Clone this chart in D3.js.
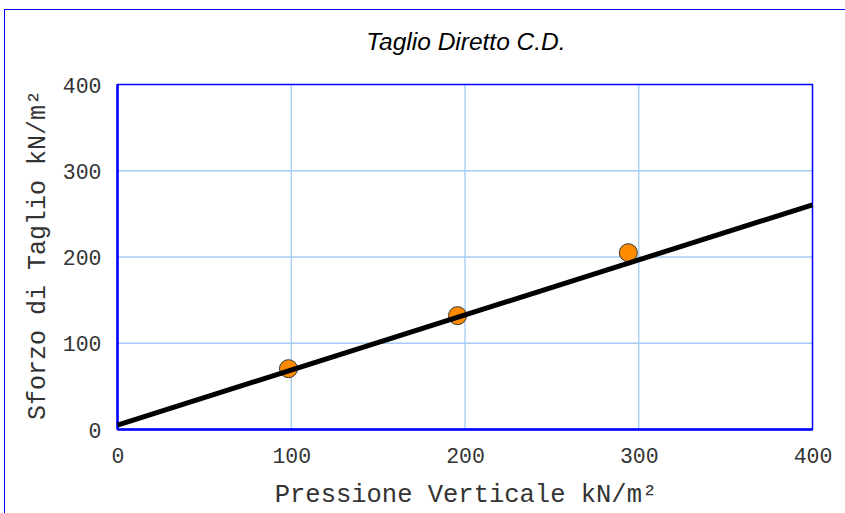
<!DOCTYPE html>
<html><head><meta charset="utf-8">
<script src="https://cdn.jsdelivr.net/npm/d3@7"></script>
<style>body{margin:0;background:#fff;}svg{display:block;}</style>
</head><body>
<svg id="chart" width="845" height="513"></svg>
<script>
const chartTitle = "Taglio Diretto C.D.";
const xTitle = "Pressione Verticale kN/m²";
const yTitle = "Sforzo di Taglio kN/m²";
const xTicks = [0, 100, 200, 300, 400];
const yTicks = [0, 100, 200, 300, 400];
const pressure = [98.4, 195.7, 294];
const shear = [70.5, 132, 205];
const fitX = [0, 400];
const fitY = [5.2, 260.5];

const svg = d3.select("#chart");
const m = {left: 117.5, right: 812.5, top: 84.5, bottom: 429.5};
const x = d3.scaleLinear().domain([0, 400]).range([m.left, m.right]);
const y = d3.scaleLinear().domain([0, 400]).range([m.bottom, m.top]);

svg.append("rect").attr("x", 4.5).attr("y", 9.5).attr("width", 900).attr("height", 600)
  .attr("fill", "#fff").attr("stroke", "#0000ff").attr("stroke-width", 1);

// grid
svg.append("g").selectAll("line.gx").data(xTicks.filter(d => d > 0 && d < 400)).join("line")
  .attr("x1", d => x(d)).attr("x2", d => x(d)).attr("y1", m.top).attr("y2", m.bottom)
  .attr("stroke", "#a4ccf4").attr("stroke-width", 1.3);
svg.append("g").selectAll("line.gy").data(yTicks.filter(d => d > 0 && d < 400)).join("line")
  .attr("y1", d => y(d)).attr("y2", d => y(d)).attr("x1", m.left).attr("x2", m.right)
  .attr("stroke", "#a4ccf4").attr("stroke-width", 1.3);

// axes via d3
const xAxis = svg.append("g").attr("transform", `translate(0,${m.bottom})`)
  .call(d3.axisBottom(x).tickValues(xTicks).tickSize(0).tickPadding(18).tickFormat(d3.format("d")));
const yAxis = svg.append("g").attr("transform", `translate(${m.left},0)`)
  .call(d3.axisLeft(y).tickValues(yTicks).tickSize(0).tickPadding(16).tickFormat(d3.format("d")));
[xAxis, yAxis].forEach(a => {
  a.select(".domain").remove();
  a.selectAll("text").attr("font-family", "'Liberation Mono', monospace")
    .attr("font-size", 21.5).attr("fill", "#333");
});
yAxis.selectAll("text").attr("dy", "0.35em");
xAxis.selectAll("text").attr("dy", "0.71em");

// plot border
svg.append("rect").attr("x", m.left).attr("y", m.top).attr("width", m.right - m.left).attr("height", m.bottom - m.top)
  .attr("fill", "none").attr("stroke", "#0000ff").attr("stroke-width", 1.5);
svg.append("line").attr("x1", m.left).attr("x2", m.left).attr("y1", m.top).attr("y2", m.bottom)
  .attr("stroke", "#0000ff").attr("stroke-width", 2.5);
svg.append("line").attr("x1", m.left).attr("x2", m.right).attr("y1", m.bottom).attr("y2", m.bottom)
  .attr("stroke", "#0000ff").attr("stroke-width", 2.5);

// points
svg.append("g").selectAll("circle").data(pressure.map((p, i) => [p, shear[i]])).join("circle")
  .attr("cx", d => x(d[0])).attr("cy", d => y(d[1])).attr("r", 9)
  .attr("fill", "#ff8c00").attr("stroke", "#333").attr("stroke-width", 1);

// fit line
svg.append("path").datum(fitX.map((v, i) => [v, fitY[i]]))
  .attr("d", d3.line().x(d => x(d[0])).y(d => y(d[1])))
  .attr("stroke", "#000").attr("stroke-width", 5).attr("fill", "none");

// titles
svg.append("text").attr("x", 466).attr("y", 50).attr("text-anchor", "middle")
  .attr("font-family", "'Liberation Sans', Arial, sans-serif").attr("font-style", "italic")
  .attr("font-size", 24.5).attr("fill", "#000").text(chartTitle);
svg.append("text").attr("x", 466).attr("y", 502).attr("text-anchor", "middle")
  .attr("font-family", "'Liberation Mono', monospace").attr("font-size", 25.5).attr("fill", "#333").text(xTitle);
svg.append("text").attr("transform", "translate(45,255) rotate(-90)").attr("text-anchor", "middle")
  .attr("font-family", "'Liberation Mono', monospace").attr("font-size", 25).attr("fill", "#333").text(yTitle);
</script>
</body></html>
